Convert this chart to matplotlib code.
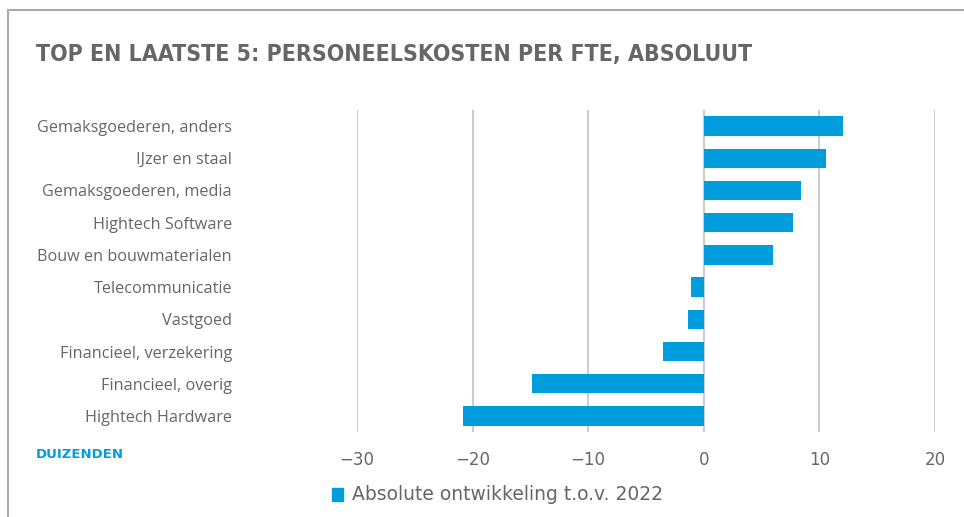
import matplotlib.pyplot as plt
from matplotlib.patches import Rectangle

categories = [
    "Gemaksgoederen, anders",
    "IJzer en staal",
    "Gemaksgoederen, media",
    "Hightech Software",
    "Bouw en bouwmaterialen",
    "Telecommunicatie",
    "Vastgoed",
    "Financieel, verzekering",
    "Financieel, overig",
    "Hightech Hardware",
]
values = [12.0, 10.6, 8.4, 7.7, 6.0, -1.1, -1.4, -3.5, -14.9, -20.8]
xticks = [-30, -20, -10, 0, 10, 20]
xtick_labels = ["\u221230", "\u221220", "\u221210", "0", "10", "20"]

BLUE = "#009cdc"
GRAY = "#666666"
GRID = "#cccccc"

plt.rcParams["font.family"] = ["DejaVu Sans"]

fig = plt.figure(figsize=(9.64, 5.17), dpi=100)
W, H = 964, 517

# outer frame (left and top edge)
fig.patches.append(Rectangle((8 / W, -0.1), 1.2, 1 - 10 / H + 0.1,
                             transform=fig.transFigure, fill=False,
                             edgecolor="#aaaaaa", linewidth=1.5))

ax = fig.add_axes([357 / W, 1 - 432 / H, (935 - 357) / W, (432 - 110) / H])

pos = list(range(len(categories)))[::-1]
ax.barh(pos, values, height=0.6, color=BLUE, zorder=3)

ax.set_xlim(-30, 20)
ax.set_ylim(-0.5, len(categories) - 0.5)
ax.set_xticks(xticks)
ax.set_xticklabels(xtick_labels)
ax.set_yticks(pos)
ax.set_yticklabels(categories)
ax.tick_params(axis="y", length=0, pad=90, labelsize=12, labelcolor=GRAY)
ax.tick_params(axis="x", length=0, pad=14, labelsize=12, labelcolor=GRAY)
for lab in ax.get_yticklabels():
    lab.set_fontfamily(["Open Sans", "DejaVu Sans"])
    lab.set_fontsize(11.7)
ax.grid(axis="x", color=GRID, linewidth=1.5, zorder=0)
for s in ax.spines.values():
    s.set_visible(False)

fig.text(36 / W, 1 - 55 / H, "TOP EN LAATSTE 5: PERSONEELSKOSTEN PER FTE, ABSOLUUT",
         fontsize=16.6, fontweight="bold", color=GRAY, va="center", ha="left",
         fontstretch="condensed")
fig.text(36 / W, 1 - 455 / H, "DUIZENDEN", fontsize=9.5, fontweight="bold",
         color=BLUE, va="center", ha="left")

# legend
fig.patches.append(Rectangle((332 / W, 1 - 501 / H), 11 / W, 13 / H,
                             transform=fig.transFigure, color=BLUE))
fig.text(352 / W, 1 - 495 / H, "Absolute ontwikkeling t.o.v. 2022",
         fontsize=13.5, color=GRAY, va="center", ha="left")

fig.savefig("out.png", dpi=100)
